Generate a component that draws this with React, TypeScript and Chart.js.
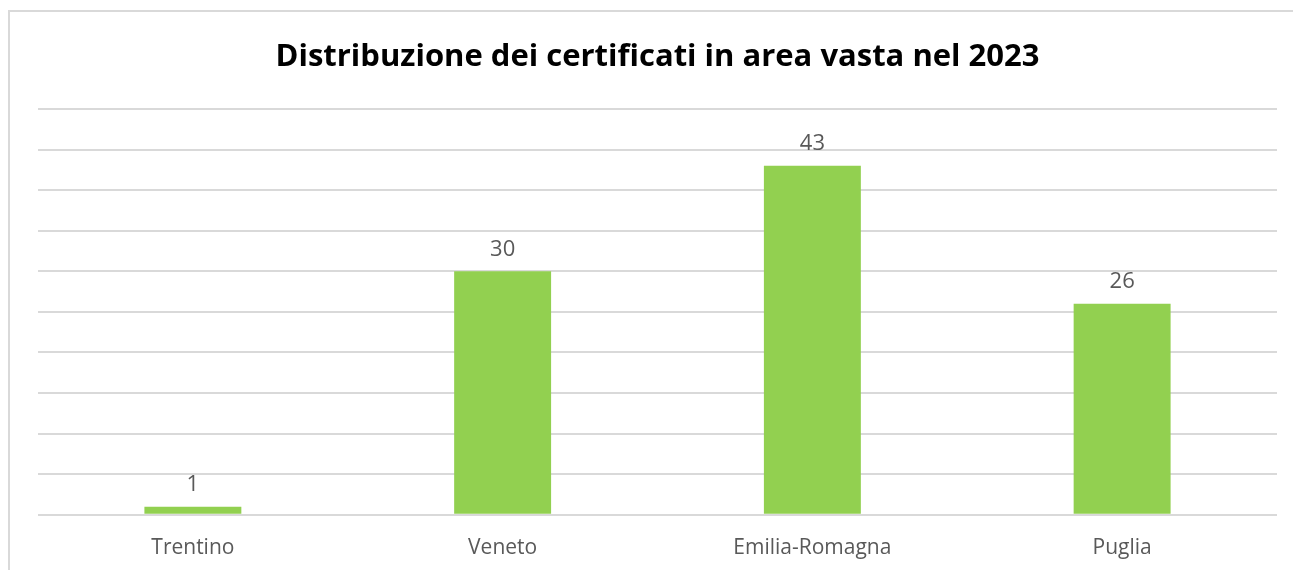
import React, { useEffect, useRef } from "react";
import { Chart, registerables } from "chart.js";

Chart.register(...registerables);

const categories = ["Trentino", "Veneto", "Emilia-Romagna", "Puglia"];
const values = [1, 30, 43, 26];
const titleText = "Distribuzione dei certificati in area vasta nel 2023";

const FONT = "'Open Sans', 'Noto Sans', sans-serif";

const labelPlugin = {
  id: "valueLabels",
  afterDatasetsDraw(chart: any) {
    const ctx = chart.ctx;
    const meta = chart.getDatasetMeta(0);
    ctx.save();
    ctx.font = `22px ${FONT}`;
    ctx.fillStyle = "#595959";
    ctx.textAlign = "center";
    ctx.textBaseline = "bottom";
    meta.data.forEach((bar: any, i: number) => {
      ctx.fillText(String(values[i]), bar.x, bar.y - 11);
    });
    ctx.restore();
  },
};

export default function App() {
  const ref = useRef<HTMLCanvasElement>(null);
  useEffect(() => {
    if (!ref.current) return;
    const chart = new Chart(ref.current, {
      type: "bar",
      data: {
        labels: categories,
        datasets: [
          {
            data: values,
            backgroundColor: "#92D050",
            categoryPercentage: 1,
            barPercentage: 0.313,
          },
        ],
      },
      options: {
        animation: false,
        responsive: false,
        maintainAspectRatio: false,
        layout: { padding: { left: 38, right: 16, top: 0, bottom: 12 } },
        plugins: {
          legend: { display: false },
          tooltip: { enabled: false },
          title: {
            display: true,
            text: titleText,
            color: "#000000",
            font: { family: FONT, size: 31, weight: "bold" },
            padding: { top: 39, bottom: 32.8 },
          },
        },
        scales: {
          x: {
            grid: { display: false, drawTicks: false },
            border: { display: false },
            ticks: {
              color: "#595959",
              font: { family: FONT, size: 21 },
              padding: 21,
            },
          },
          y: {
            min: 0,
            max: 50,
            grid: { color: "#d9d9d9", lineWidth: 2, drawTicks: false },
            border: { display: false },
            ticks: { display: false, stepSize: 5 },
          },
        },
      },
      plugins: [labelPlugin],
    });
    return () => chart.destroy();
  }, []);
  return (
    <div style={{ position: "absolute", left: 0, top: 0, width: 1293, height: 570, overflow: "hidden", background: "#fff" }}>
      <div
        style={{
          position: "absolute",
          left: 8,
          top: 10,
          width: 1400,
          height: 700,
          border: "2px solid #d9d9d9",
        }}
      />
      <canvas ref={ref} width={1293} height={594} style={{ position: "absolute", left: 0, top: 0 }} />
    </div>
  );
}
